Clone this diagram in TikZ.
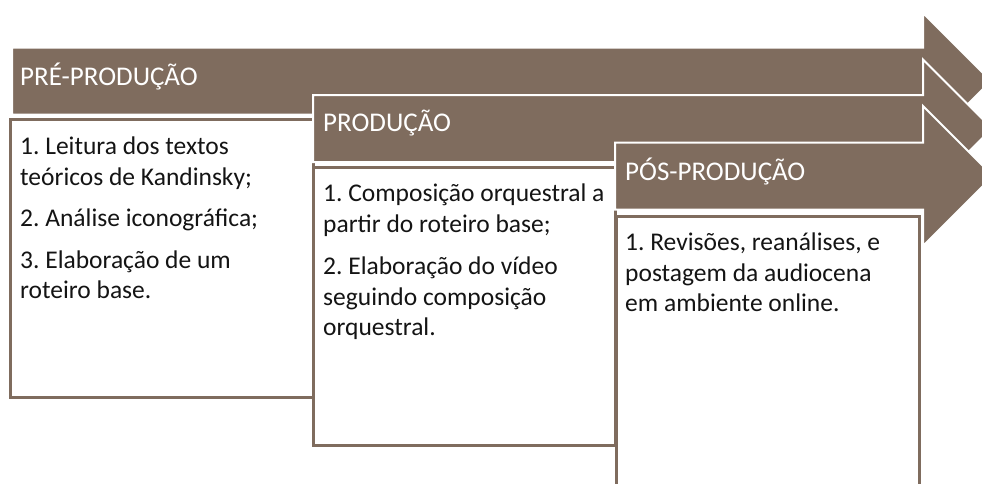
\documentclass[tikz,border=0pt]{standalone}
\usepackage{fontspec}
\setmainfont{Carlito}
\frenchspacing
\definecolor{taupe}{RGB}{127,108,94}
\definecolor{ink}{RGB}{20,20,20}
\tikzset{
  stagearrow/.style={fill=taupe, draw=white, line width=2pt, line join=miter},
  stagebox/.style={draw=taupe, fill=white, line width=3pt},
  stagetitle/.style={anchor=west, text=white, inner sep=0pt,
    font=\fontsize{27}{30}\selectfont},
  stagetext/.style={anchor=north west, text=ink, align=left, inner sep=0pt,
    font=\fontsize{25.5}{30.5}\selectfont}
}
\begin{document}
\begin{tikzpicture}[x=1pt,y=-1pt]
  \useasboundingbox (0,0) rectangle (982,483);
  \clip (0,0) rectangle (982,483);

  % pre-production
  \draw[stagearrow] (12,47.5) -- (923,47.5) -- (923,13) -- (991,81)
    -- (923,149) -- (923,114.5) -- (12,114.5) -- cycle;
  \node[stagetitle] (pre) at (20,76) {PRÉ-PRODUÇÃO};
  \draw[stagebox] (10,119) rectangle (313,397);
  \node[stagetext] (pretext) at (20,137)
    {1. Leitura dos textos\\teóricos de Kandinsky;\\[11pt]
     2. Análise iconográfica;\\[11pt]
     3. Elaboração de um\\roteiro base.};

  % production
  \draw[stagearrow] (313,95) -- (923,95) -- (923,59.5) -- (992,128.5)
    -- (923,197.5) -- (923,162) -- (313,162) -- cycle;
  \node[stagetitle] (prod) at (323,123) {PRODUÇÃO};
  \draw[stagebox] (313,167) rectangle (615,445);
  \node[stagetext] (prodtext) at (323,184)
    {1. Composição orquestral a\\partir do roteiro base;\\[12pt]
     2. Elaboração do vídeo\\seguindo composição\\orquestral.};

  % post-production
  \draw[stagearrow] (615,142.5) -- (923,142.5) -- (923,106) -- (993,176)
    -- (923,246) -- (923,209.5) -- (615,209.5) -- cycle;
  \node[stagetitle] (post) at (625,171) {PÓS-PRODUÇÃO};
  \draw[stagebox] (616,216) rectangle (919,500);
  \node[stagetext] (posttext) at (625,233)
    {1. Revisões, reanálises, e\\postagem da audiocena\\em ambiente online.};
\end{tikzpicture}
\end{document}
